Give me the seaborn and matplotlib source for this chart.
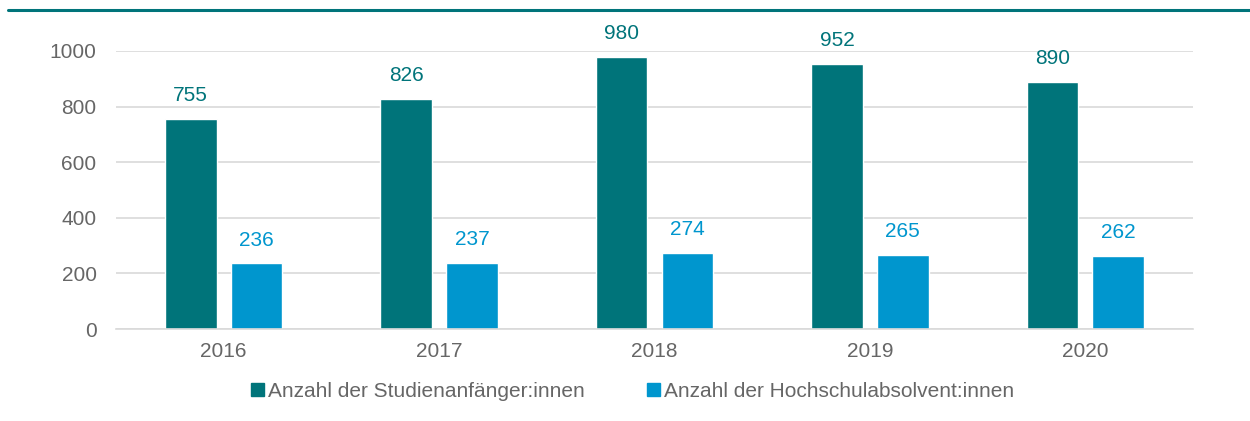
import pandas as pd
import matplotlib.pyplot as plt
import seaborn as sns
from matplotlib.lines import Line2D

# data
years = ["2016", "2017", "2018", "2019", "2020"]
anfaenger = [755, 826, 980, 952, 890]
absolventen = [236, 237, 274, 265, 262]
series_names = ["Anzahl der Studienanfänger:innen", "Anzahl der Hochschulabsolvent:innen"]
colors = ["#00747A", "#0096CE"]

df = pd.DataFrame({
    "Jahr": years * 2,
    "Wert": anfaenger + absolventen,
    "Serie": [series_names[0]] * len(years) + [series_names[1]] * len(years),
})

sns.set_style("white")
plt.rcParams['font.family'] = ['Liberation Sans', 'DejaVu Sans']

fig = plt.figure(figsize=(12.5, 4.21), dpi=100)
ax = fig.add_axes([0.0928, 0.2185, 0.8616, 0.6604])

sns.barplot(data=df, x="Jahr", y="Wert", hue="Serie", palette=colors,
            width=0.612, gap=0.216, ax=ax, legend=False, saturation=1)

ax.set_ylim(0, 1000)
ax.set_yticks(range(0, 1001, 200))
ax.grid(axis='y', color='#D9D9D9', linewidth=1.2)
ax.set_axisbelow(True)
for s in ["top", "right", "left"]:
    ax.spines[s].set_visible(False)
ax.spines["bottom"].set_color('#D9D9D9')
ax.spines["bottom"].set_linewidth(1.2)
ax.tick_params(axis='both', length=0, labelsize=15, labelcolor='#666666')
ax.tick_params(axis='x', pad=9)
ax.tick_params(axis='y', pad=14)
ax.set_xlabel("")
ax.set_ylabel("")

for cont, c in zip(ax.containers, colors):
    labels = ax.bar_label(cont, padding=10, fontsize=15, color=c)
    for t in labels:
        t.set_clip_on(False)

# top rule
fig.add_artist(Line2D([0.006, 1.0], [0.976, 0.976], color='#00747A', linewidth=2.2))

handles = [plt.Rectangle((0, 0), 1, 1, color=c) for c in colors]
fig.legend(handles, series_names, loc='center', bbox_to_anchor=(0.506, 0.07), ncol=2,
           frameon=False, fontsize=15, handlelength=0.6, handleheight=0.6,
           handletextpad=0.2, columnspacing=3.0, labelcolor='#666666')

fig.savefig("out.png", dpi=100)
